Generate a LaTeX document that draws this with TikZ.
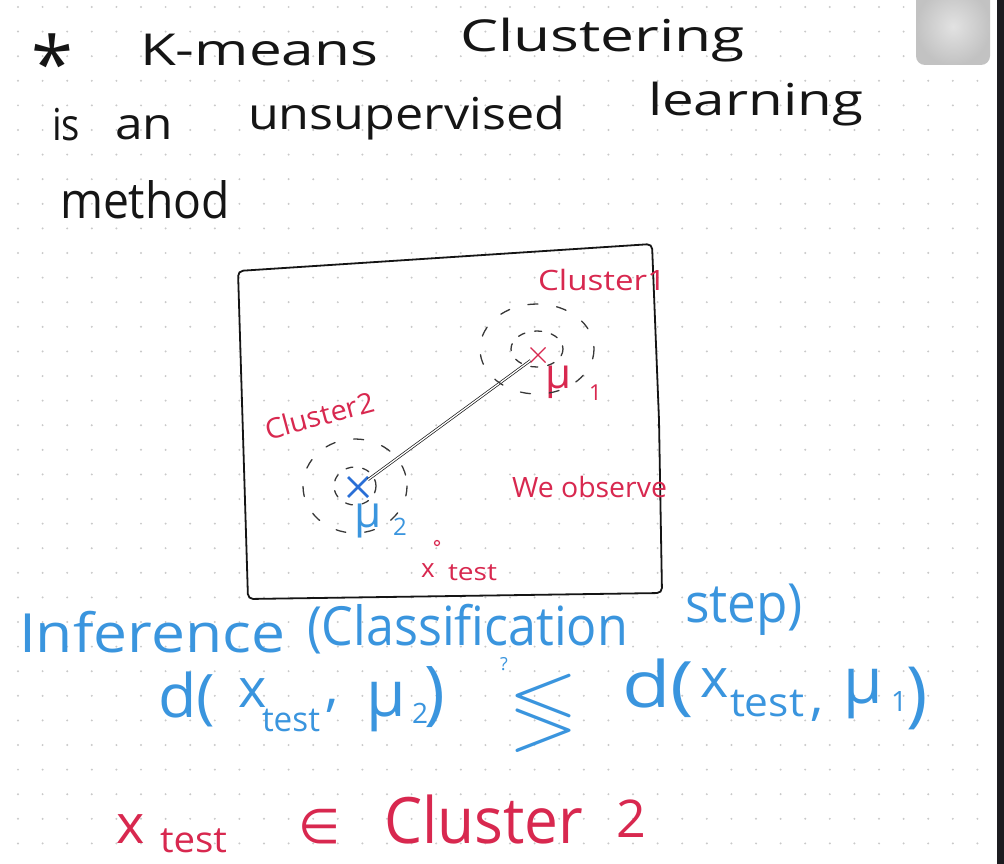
\documentclass[tikz,border=0pt]{standalone}
\usepackage{fontspec}
\setmainfont{Open Sans}
\newfontfamily\opsfont{DejaVu Sans}
\usepackage{amssymb}
\usepackage{graphicx}
\usetikzlibrary{shapes.misc}
\definecolor{ink}{HTML}{151515}
\definecolor{pen}{HTML}{D8284F}
\definecolor{sky}{HTML}{3A95DE}
\definecolor{deepsky}{HTML}{2A6FD6}
\definecolor{griddot}{HTML}{C9C9C9}
\definecolor{panel}{HTML}{1C1C20}
\definecolor{knob}{HTML}{C2C2C2}
\definecolor{knobhi}{HTML}{E2E2E2}
\newcommand{\fs}[1]{\fontsize{#1}{#1}\selectfont}
\newcommand{\hw}[2]{\resizebox{#1pt}{\height}{#2}}
\tikzset{
  hand/.style={anchor=base west, inner sep=0pt, outer sep=0pt},
  inkword/.style={hand, text=ink, font=\fs{44}},
  redword/.style={hand, text=pen},
  blueword/.style={hand, text=sky},
  ring/.style={draw=ink!85, line width=1.3pt, dash pattern=on 10pt off 19pt, line cap=round},
  smallring/.style={ring, dash pattern=on 7pt off 10pt},
  frame/.style={draw=ink, line width=1.8pt, rounded corners=5pt},
  dist/.style={draw=ink, double=white, double distance=1.3pt, line width=0.7pt},
  centroid/.style={cross out, inner sep=0pt, outer sep=0pt}
}

\begin{document}
\begin{tikzpicture}[x=1pt,y=-1pt]
  % page with dot grid
  \useasboundingbox (0,0) rectangle (1004,864);
  \fill[white] (0,0) rectangle (1004,864);
  \foreach \i in {0,...,39}
    \foreach \j in {0,...,35}
      \fill[griddot] (18+24.6*\i, 7+24.6*\j) circle (1.1pt);
  \fill[panel] (997,0) rectangle (1004,864);
  \shade[inner color=knobhi, outer color=knob, rounded corners=9pt] (916,-12) rectangle (990,65);

  % title lines
  \node[anchor=north, inner sep=0pt, text=ink, font=\fs{76}] (star) at (52,34) {*};
  \node[inkword] (kmeans) at (140,66) {\hw{238}{K-means}};
  \node[inkword] (clust) at (460,52) {\hw{285}{Clustering}};
  \node[inkword] (isw) at (52,140) {\hw{28}{is}};
  \node[inkword] (anw) at (115,140) {\hw{58}{an}};
  \node[inkword] (unsup) at (248,130) {\hw{317}{unsupervised}};
  \node[inkword] (learn) at (648,116) {\hw{215}{learning}};
  \node[inkword, font=\fs{50}] (meth) at (60,218) {\hw{170}{method}};

  % data box
  \draw[frame] (238,271) -- (652,244) -- (659,420) -- (662,593) -- (248,599) -- cycle;
  \node[redword, font=\fs{28}] (cone) at (538,290) {\hw{128}{Cluster1}};
  \node[redword, font=\fs{28}, rotate=15] (ctwo) at (268,440) {\hw{112}{Cluster2}};
  \node[redword, font=\fs{28}] (obs) at (512,497) {\hw{155}{We observe}};

  % centroids
  \node[centroid, draw=pen, line width=1.3pt, minimum size=15pt] (muone) at (538,355) {};
  \node[centroid, draw=deepsky, line width=2.6pt, minimum size=20pt] (mutwo) at (358,487) {};
  \node[redword, font=\fs{42}] (muonelab) at (545,388) {μ};
  \node[redword, font=\fs{22}] (muonesub) at (589,400) {1};
  \node[blueword, font=\fs{44}] (mutwolab) at (354,527) {μ};
  \node[blueword, font=\fs{24}] (mutwosub) at (393,535) {2};
  \draw[dist] (mutwo) -- (muone);

  % point clouds
  \coordinate (ringone) at (537,349);
  \coordinate (ringtwo) at (355,486);
  \draw[ring] (ringone) ellipse [x radius=57, y radius=45];
  \draw[smallring] (ringone) ellipse [x radius=26, y radius=18];
  \draw[ring] (ringtwo) ellipse [x radius=52, y radius=47];
  \draw[smallring] (ringtwo) ellipse [x radius=21, y radius=19];

  % test point
  \node[circle, draw=pen, line width=1.2pt, minimum size=5pt, inner sep=0pt] (xt) at (437,543) {};
  \node[redword, font=\fs{26}] (xtlab) at (421,577) {x};
  \node[redword, font=\fs{24}] (xttest) at (448,580) {\hw{49}{test}};

  % inference
  \node[blueword, font=\fs{54}] (infer) at (19,652) {\hw{266}{Inference}};
  \node[blueword, font=\fs{54}] (classif) at (307,645) {\hw{321}{(Classification}};
  \node[blueword, font=\fs{54}] (stepw) at (685,622) {\hw{118}{step)}};

  % left distance
  \node[blueword, font=\fs{60}] (dl) at (158,717) {\hw{57}{d(}};
  \node[blueword, font=\fs{54}] (xl) at (238,707) {x};
  \node[blueword, font=\fs{34}] (tl) at (262,731) {\hw{58}{test}};
  \node[blueword, font=\fs{54}] (cl) at (325,705) {,};
  \node[blueword, font=\fs{64}] (ml) at (366,716) {μ};
  \node[blueword, font=\fs{28}] (mltwo) at (412,723) {2};
  \node[blueword, font=\fs{70}] (pl) at (424,716) {)};

  % comparison
  \node[blueword, font=\fs{18}] (qm) at (500,670) {?};
  \node[blueword, anchor=north west] (cmp) at (512,675) {\resizebox*{62pt}{72pt}{$\lessgtr$}};

  % right distance
  \node[blueword, font=\fs{64}] (dr) at (622,707) {\hw{72}{d(}};
  \node[blueword, font=\fs{54}] (xr) at (700,697) {x};
  \node[blueword, font=\fs{40}] (tr) at (730,716) {\hw{74}{test}};
  \node[blueword, font=\fs{54}] (cr) at (810,714) {,};
  \node[blueword, font=\fs{64}] (mr) at (843,703) {μ};
  \node[blueword, font=\fs{28}] (mrone) at (891,711) {1};
  \node[blueword, font=\fs{72}] (pr) at (906,718) {)};

  % result
  \node[redword, font=\fs{54}] (xb) at (116,843) {x};
  \node[redword, font=\fs{36}] (tb) at (160,852) {\hw{67}{test}};
  \node[redword] (inb) at (298,843) {\resizebox{42pt}{!}{\opsfont\fs{54}∈}};
  \node[redword, font=\fs{64}] (clb) at (384,843) {\hw{199}{Cluster}};
  \node[redword, font=\fs{52}] (twob) at (616,837) {2};
\end{tikzpicture}
\end{document}
